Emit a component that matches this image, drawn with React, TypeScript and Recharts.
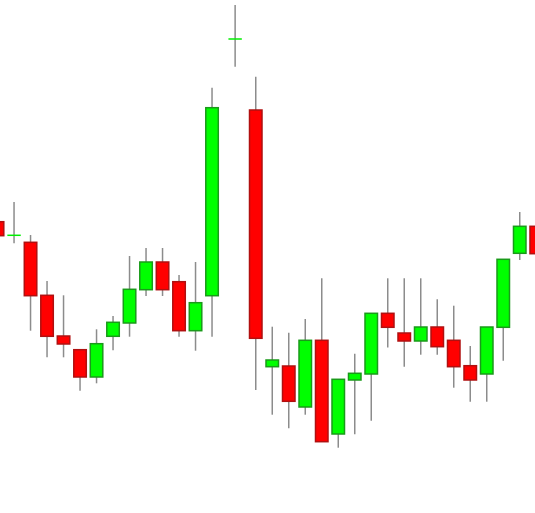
import React from 'react';
import { ComposedChart, Bar, XAxis, YAxis } from 'recharts';

// candle slot positions (a wider gap sits around the spike)
const slots = [0, 1, 2, 3, 4, 5, 6, 7, 8, 9, 10, 11, 12, 13, 14.4, 15.65, 16.65, 17.65, 18.65, 19.65, 20.65, 21.65, 22.65, 23.65, 24.65, 25.65, 26.65, 27.65, 28.65, 29.65, 30.65, 31.65, 32.65];
const opens = [29.13, 27.77, 27.07, 21.77, 17.7, 16.33, 13.6, 17.67, 19.0, 22.33, 25.1, 23.13, 18.23, 21.73, 47.4, 40.3, 14.63, 14.7, 10.6, 17.27, 7.9, 13.3, 13.9, 19.97, 18.0, 17.2, 18.6, 17.27, 14.73, 13.9, 18.57, 25.97, 28.67];
const closes = [27.73, 27.77, 21.73, 17.67, 16.9, 13.6, 16.93, 19.07, 22.37, 25.1, 22.33, 18.23, 21.03, 40.53, 47.4, 17.47, 15.3, 11.17, 17.27, 7.13, 13.37, 13.97, 19.97, 18.57, 17.2, 18.6, 16.63, 14.63, 13.3, 18.6, 25.37, 28.67, 25.93];
const highs = [29.8, 31.1, 27.8, 23.2, 21.77, 16.33, 18.37, 19.7, 25.7, 26.5, 26.5, 23.8, 25.1, 42.53, 50.8, 43.63, 18.63, 18.03, 19.4, 23.47, 13.37, 15.93, 19.97, 23.47, 23.47, 23.47, 21.37, 20.73, 16.7, 18.6, 25.37, 30.1, 29.5];
const lows = [27.3, 26.97, 18.23, 15.57, 15.57, 12.23, 12.97, 16.27, 17.63, 21.7, 21.7, 17.63, 16.23, 17.63, 44.63, 12.3, 9.83, 8.47, 9.83, 7.13, 6.53, 7.87, 9.23, 16.55, 14.63, 15.83, 15.83, 12.53, 11.13, 11.13, 15.23, 25.3, 25.1];

const data = slots.map((t, i) => ({
  t,
  open: opens[i],
  close: closes[i],
  high: highs[i],
  low: lows[i],
  range: [lows[i], highs[i]],
}));

const Candle = (props: any) => {
  const { x, y, width, height, payload } = props;
  const { open, close, high, low } = payload;
  const cx = x + width / 2;
  const ratio = height / (high - low);
  const top = y + (high - Math.max(open, close)) * ratio;
  const bottom = y + (high - Math.min(open, close)) * ratio;
  const up = close >= open;
  const bw = 12.5;
  return (
    <g>
      <line x1={cx} x2={cx} y1={y} y2={y + height} stroke="#8c8c8c" strokeWidth={1.5} />
      {open === close ? (
        <line x1={cx - 6.7} x2={cx + 6.7} y1={top} y2={top} stroke="#00ee00" strokeWidth={1.5} />
      ) : (
        <rect
          x={cx - bw / 2}
          y={top}
          width={bw}
          height={bottom - top}
          fill={up ? '#00ff00' : '#ff0000'}
          stroke={up ? '#1a9a1a' : '#b01010'}
          strokeWidth={1.5}
        />
      )}
    </g>
  );
};

export default function App() {
  return (
    <div style={{ position: 'absolute', left: 0, top: 0, background: '#fff' }}>
      <ComposedChart width={535} height={513} data={data} margin={{ top: 0, right: 0, left: 0, bottom: 0 }}>
        <XAxis dataKey="t" type="number" domain={[0.164, 32.59]} allowDataOverflow hide />
        <YAxis type="number" domain={[0, 51.3]} allowDataOverflow hide />
        <Bar dataKey="range" barSize={13} shape={<Candle />} isAnimationActive={false} />
      </ComposedChart>
    </div>
  );
}
